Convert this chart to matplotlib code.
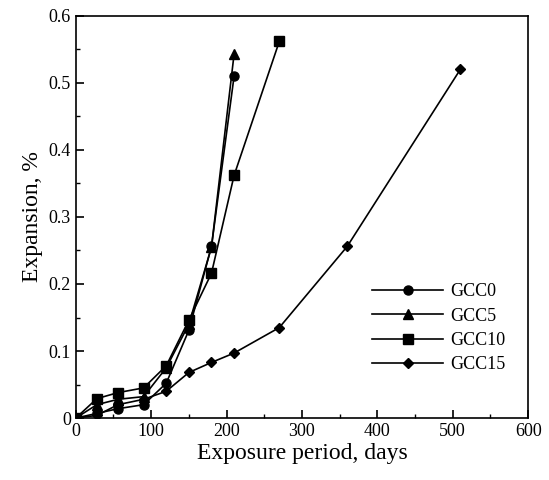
import numpy as np
import matplotlib.pyplot as plt
from matplotlib.ticker import MultipleLocator

plt.rcParams['font.family'] = ['Liberation Serif', 'DejaVu Serif']

days_short = [0, 28, 56, 90, 120, 150, 180, 210]
days_gcc10 = [0, 28, 56, 90, 120, 150, 180, 210, 270]
days_gcc15 = [0, 28, 56, 90, 120, 150, 180, 210, 270, 360, 510]

gcc0 = [0, 0.007, 0.014, 0.020, 0.052, 0.131, 0.256, 0.510]
gcc5 = [0, 0.020, 0.028, 0.032, 0.075, 0.140, 0.255, 0.543]
gcc10 = [0, 0.029, 0.038, 0.045, 0.078, 0.146, 0.216, 0.362, 0.562]
gcc15 = [0, 0.004, 0.020, 0.028, 0.040, 0.068, 0.083, 0.097, 0.135, 0.256, 0.520]

fig = plt.figure(figsize=(5.49, 4.8), dpi=100)
ax = fig.add_axes([0.138, 0.129, 0.824, 0.838])

ax.plot(days_short, gcc0, 'k-', marker='o', ms=6.5, lw=1.2, label='GCC0')
ax.plot(days_short, gcc5, 'k-', marker='^', ms=6.5, lw=1.2, label='GCC5')
ax.plot(days_gcc10, gcc10, 'k-', marker='s', ms=6.5, lw=1.2, label='GCC10')
ax.plot(days_gcc15, gcc15, 'k-', marker='D', ms=5, lw=1.2, label='GCC15')

ax.set_xlim(0, 600)
ax.set_ylim(0, 0.6)
ax.xaxis.set_major_locator(MultipleLocator(100))
ax.xaxis.set_minor_locator(MultipleLocator(50))
ax.yaxis.set_minor_locator(MultipleLocator(0.05))
ax.set_yticks([0, 0.1, 0.2, 0.3, 0.4, 0.5, 0.6])
ax.set_yticklabels(['0', '0.1', '0.2', '0.3', '0.4', '0.5', '0.6'])
ax.tick_params(which='both', direction='in', top=False, right=False, labelsize=13)
ax.tick_params(which='major', length=6, width=1.2)
ax.tick_params(which='minor', length=3, width=1)
for s in ax.spines.values():
    s.set_linewidth(1.2)

ax.set_xlabel('Exposure period, days', fontsize=17, labelpad=2)
ax.set_ylabel('Expansion, %', fontsize=17, labelpad=4)

ax.legend(loc='upper left', bbox_to_anchor=(0.62, 0.375), frameon=False,
          fontsize=13, handlelength=3.9, handletextpad=0.4, labelspacing=0.4)

fig.savefig('out.png', dpi=100)
